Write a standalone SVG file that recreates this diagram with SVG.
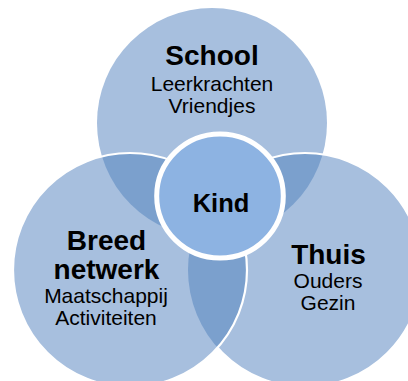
<svg xmlns="http://www.w3.org/2000/svg" width="408" height="381" viewBox="0 0 408 381">
  <style>
    .c { fill: #A7BFDE; }
    .lens { fill: #7BA0CD; }
    .edge { fill: none; stroke: #FFFFFF; stroke-width: 2.2; }
    .t { font-family: "Liberation Sans", Arial, sans-serif; fill: #000000; text-anchor: middle; }
    .h { font-weight: bold; font-size: 28px; }
    .s { font-size: 21px; }
    .k { font-weight: bold; font-size: 25.5px; }
  </style>
  <defs>
    <clipPath id="clipT"><circle cx="212" cy="123" r="115"/></clipPath>
    <clipPath id="clipR"><circle cx="305" cy="270" r="117"/></clipPath>
    <mask id="outsideL" maskUnits="userSpaceOnUse" x="0" y="0" width="408" height="381">
      <rect x="0" y="0" width="408" height="381" fill="#FFFFFF"/>
      <circle cx="130" cy="270" r="117" fill="#000000"/>
    </mask>
  </defs>
  <rect x="0" y="0" width="408" height="381" fill="#FFFFFF"/>

  <g id="school">
    <circle class="c" cx="212" cy="123" r="115"/>
  </g>
  <g id="thuis">
    <circle class="c" cx="305" cy="270" r="117"/>
  </g>
  <g id="breed-netwerk">
    <circle class="c" cx="130" cy="270" r="117"/>
  </g>

  <g id="overlaps">
    <circle class="lens" cx="305" cy="270" r="117" clip-path="url(#clipT)"/>
    <circle class="lens" cx="130" cy="270" r="117" clip-path="url(#clipT)"/>
    <circle class="lens" cx="130" cy="270" r="117" clip-path="url(#clipR)"/>
    <circle class="edge" cx="305" cy="270" r="117" mask="url(#outsideL)"/>
    <circle class="edge" cx="130" cy="270" r="117"/>
  </g>

  <g id="school-label">
    <text class="t h" x="212" y="65">School</text>
    <text class="t s" x="212" y="90.5">Leerkrachten</text>
    <text class="t s" x="212" y="112.5">Vriendjes</text>
  </g>
  <g id="breed-label">
    <text class="t h" x="106.5" y="250">Breed</text>
    <text class="t h" x="106.5" y="279">netwerk</text>
    <text class="t s" x="106" y="303">Maatschappij</text>
    <text class="t s" x="106" y="325">Activiteiten</text>
  </g>
  <g id="thuis-label">
    <text class="t h" x="328.5" y="264">Thuis</text>
    <text class="t s" x="328" y="288">Ouders</text>
    <text class="t s" x="328" y="310">Gezin</text>
  </g>

  <g id="kind">
    <ellipse cx="220" cy="196" rx="63.3" ry="62" fill="#8DB3E2" stroke="#FFFFFF" stroke-width="5"/>
    <text class="t k" x="221" y="212">Kind</text>
  </g>
</svg>
